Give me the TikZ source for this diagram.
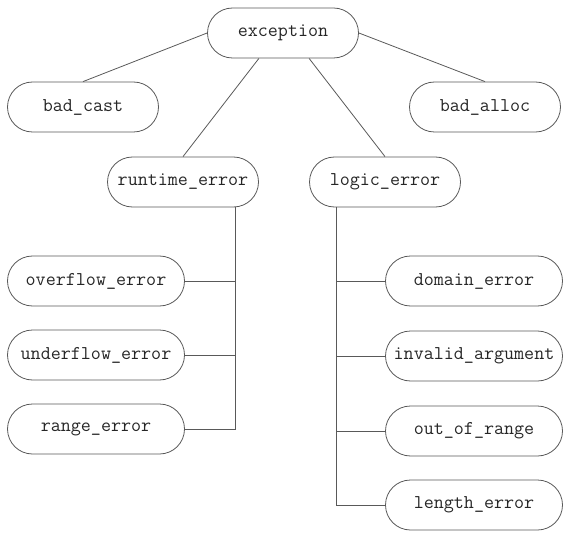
\documentclass[tikz,border=0pt]{standalone}
\usepackage{tikz}
\usetikzlibrary{shapes,arrows}
\definecolor{edge}{rgb}{0.35, 0.35, 0.35}
\tikzstyle{every cls node}=[draw=edge,line width=0.8pt,rounded corners=25pt,minimum height=50pt,inner sep=2pt,text=black!85,font=\fontsize{19.5}{20}\ttfamily]
\tikzstyle{cls}=[every cls node,minimum width=151pt]
\tikzstyle{leaf}=[every cls node,minimum width=177pt]
\tikzstyle{link}=[draw=edge,line width=0.8pt]
\newcommand{\leafnode}[4]{
  \node[leaf] (#1) at (#2, #3) {#4};
}

\begin{document}
\begin{tikzpicture}[x=1pt,y=-1pt]
\useasboundingbox (0,0) rectangle (570,540);

  \node[cls] (exception) at (283, 33) {exception};
  \node[cls] (badcast)   at (83, 107) {bad\_cast};
  \node[cls] (badalloc)  at (485, 107) {bad\_alloc};
  \node[cls] (runtime)   at (183, 182) {runtime\_error};
  \node[cls] (logic)     at (385, 182) {logic\_error};

\leafnode{overflow}{96}{281}{overflow\_error};
\leafnode{underflow}{96}{355}{underflow\_error};
\leafnode{range}{96}{429}{range\_error};

\leafnode{domain}{474}{281}{domain\_error};
\leafnode{invalid}{474}{356}{invalid\_argument};
\leafnode{outofrange}{474}{431}{out\_of\_range};
\leafnode{length}{474}{505}{length\_error};

  \coordinate (lspine) at (235, 0);
  \coordinate (rspine) at (336, 0);

  \draw [link] (exception.west) -- (badcast.north);
  \draw [link] (exception.east) -- (badalloc.north);
  \draw [link] (exception.south -| runtime.east) -- (runtime.north);
  \draw [link] (exception.south -| logic.west) -- (logic.north);

  \draw [link] (runtime.south -| lspine) -- (lspine |- range.east) -- (range.east);
  \draw [link] (overflow.east) -- (overflow.east -| lspine);
  \draw [link] (underflow.east) -- (underflow.east -| lspine);

  \draw [link] (logic.south -| rspine) -- (rspine |- length.west) -- (length.west);
  \draw [link] (domain.west) -- (domain.west -| rspine);
  \draw [link] (invalid.west) -- (invalid.west -| rspine);
  \draw [link] (outofrange.west) -- (outofrange.west -| rspine);

\end{tikzpicture}
\end{document}
